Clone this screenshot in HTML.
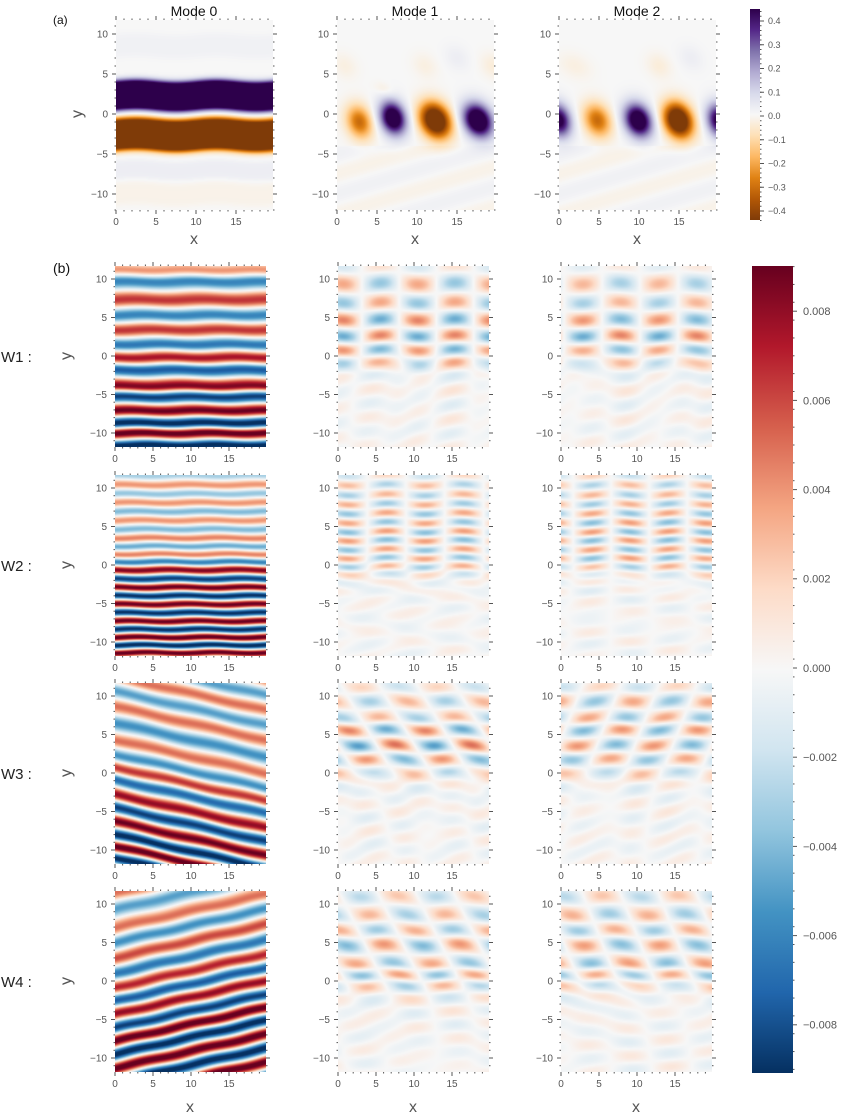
<!DOCTYPE html>
<html><head><meta charset="utf-8">
<style>
html,body{margin:0;padding:0;background:#fff;}
body{width:841px;height:1117px;position:relative;overflow:hidden;font-family:"Liberation Sans",sans-serif;}
canvas{position:absolute;}
.cb{position:absolute;}
svg{position:absolute;left:0;top:0;}
</style></head><body>
<div id="root"></div>
<div class="cb" style="left:750px;top:9px;width:10px;height:211px;background:linear-gradient(to bottom,#2d004b,#542788,#8073ac,#b2abd2,#d8daeb,#f7f7f7,#fee0b6,#fdb863,#e08214,#b35806,#7f3b08);"></div>
<div class="cb" style="left:752px;top:266px;width:41px;height:807px;background:linear-gradient(to bottom,#67001f,#b2182b,#d6604d,#f4a582,#fddbc7,#f7f7f7,#d1e5f0,#92c5de,#4393c3,#2166ac,#053061);"></div>
<svg id="ov" width="841" height="1117"></svg>
<script>
// ---------- data ----------
const puor = ["#7f3b08","#b35806","#e08214","#fdb863","#fee0b6","#f7f7f7","#d8daeb","#b2abd2","#8073ac","#542788","#2d004b"];
const rdbu = ["#053061","#2166ac","#4393c3","#92c5de","#d1e5f0","#f7f7f7","#fddbc7","#f4a582","#d6604d","#b2182b","#67001f"];
const mode0Bands = [[2.3,1.85,0.8],[-2.6,1.95,-0.8],[-7,1.2,0.03],[-10,1.5,-0.02],[8.5,1.5,0.02]];
const mode1Blobs = [[2.8,-1,1.6,2.0,-0.32],[7,-0.5,1.6,2.0,0.6],[12.3,-0.8,1.9,2.1,-0.65],[17.6,-0.8,1.8,2.0,0.65],[11,6,1.5,1.5,-0.03],[15,7,1.5,1.5,0.03],[19.5,6,1.5,1.5,-0.04],[6,3,1.2,0.8,-0.04],[1,6,1.5,1.5,-0.03]];
const mode2Blobs = [[0,-0.8,1.5,2,0.5],[4.8,-0.8,1.7,2.0,-0.32],[9.9,-0.8,1.7,2,0.6],[14.9,-0.8,1.8,2.1,-0.65],[20,-0.8,1.5,2,0.5],[12.5,6,1.5,1.5,-0.04],[16.5,7,1.5,1.5,0.03],[2,6,2,1.5,-0.03]];
const w1m0Y = [11.2,9.65,7.3,5.3,3.4,1.5,-0.2,-1.8,-3.9,-5.3,-7.1,-8.7,-10.0,-11.6];
const w1m0V = [0.004,-0.006,0.0065,-0.006,0.0065,-0.0065,0.0075,-0.0075,0.0085,-0.0085,0.009,-0.0095,0.0095,-0.0095];
const w2m0Y = [11.6,10.4,9.25,8.1,6.95,5.8,4.65,3.5,2.45,1.4,0.4,-0.65,-1.8,-2.9,-4.0,-5.1,-6.2,-7.3,-8.35,-9.4,-10.4,-11.4];
const w2m0V = [-0.003,0.004,-0.0035,0.004,-0.004,0.004,-0.004,0.0045,-0.0045,0.0045,-0.006,0.0085,-0.0085,0.009,-0.009,0.009,-0.009,0.009,-0.009,0.0095,-0.0095,0.0095];
const w3m0Y = [10.6,8.66,6.5,4.3,2.4,0.74,-0.87,-2.8,-4.5,-6.3,-8.0,-9.5,-11.0];
const w3m0V = [-0.005,0.005,-0.0055,0.005,-0.0055,0.0065,-0.007,0.008,-0.0085,0.009,-0.0095,0.0095,-0.0095];
const w4m0Y = [11.4,9.3,6.9,5.0,3.0,1.0,-0.87,-2.6,-4.3,-6.1,-7.8,-9.5,-11.3];
const w4m0V = [0.005,-0.005,0.005,-0.0055,0.006,-0.0065,0.007,-0.0075,0.008,-0.0085,0.0095,-0.0095,0.0095];
const w1cY = [11.6,9.4,6.9,4.7,2.6,0.8,-0.9,-2.6,-4.5,-6.5,-8.5,-10.5];
const w1m1V = [-0.0015,0.0035,-0.0035,0.0045,-0.0045,0.004,-0.003,0.0008,-0.0006,0.0005,-0.0005,0.0004];
const w1m2V = [-0.001,0.003,-0.003,0.004,-0.0045,0.0035,-0.0025,0.0008,-0.0006,0.0005,-0.0005,0.0004];
const w2cY = [11.6,10.4,9.1,7.9,6.7,5.5,4.3,3.2,2.0,0.9,-0.2,-1.2,-2.3,-3.4,-4.5,-5.6,-6.7];
const w2m1V = [0.002,-0.0028,0.003,-0.0032,0.0035,-0.0035,0.0038,-0.0038,0.0036,-0.0035,0.003,-0.002,0.001,-0.0005,0.0003,-0.0002,0.0002];
const w2m2V = [0.0022,-0.0028,0.003,-0.0032,0.0035,-0.0038,0.0038,-0.0038,0.0036,-0.0035,0.0028,-0.0018,0.0009,-0.0005,0.0003,-0.0002,0.0002];
const w3cY = [11.2,9.3,7.2,5.6,3.6,1.8,0,-1.8,-3.6,-5.4,-7.2,-9,-10.8];
const w3m1V = [-0.002,0.003,-0.003,0.0045,-0.005,0.004,-0.0025,0.001,-0.0006,0.0006,-0.0005,0.0005,-0.0004];
const w3m2V = [-0.002,0.0035,-0.0035,0.004,-0.004,0.0035,-0.0025,0.001,-0.0006,0.0006,-0.0005,0.0005,-0.0004];
const w4cY = [11,8.6,6.6,4.7,2.3,0.8,-0.6,-2.2,-4,-5.8,-7.6,-9.4,-11.2];
const w4m1V = [0.0025,-0.003,0.0032,-0.004,0.0035,-0.0035,0.0025,-0.0012,0.0006,-0.0005,0.0005,-0.0004,0.0004];
const w4m2V = [-0.0025,0.0032,-0.0032,0.0038,-0.0038,0.0035,-0.0025,0.0012,-0.0006,0.0005,-0.0005,0.0004,-0.0004];
const rowLabels = ["W1 :","W2 :","W3 :","W4 :"];
const modeTitles = ["Mode 0","Mode 1","Mode 2"];
const topTicks = ["0.4","0.3","0.2","0.1","0.0","\u22120.1","\u22120.2","\u22120.3","\u22120.4"];
const topTickVals = [0.4,0.3,0.2,0.1,0,-0.1,-0.2,-0.3,-0.4];
const botTicks = ["0.008","0.006","0.004","0.002","0.000","\u22120.002","\u22120.004","\u22120.006","\u22120.008"];
const botTickVals = [0.008,0.006,0.004,0.002,0,-0.002,-0.004,-0.006,-0.008];

function hex(c){return [parseInt(c.slice(1,3),16),parseInt(c.slice(3,5),16),parseInt(c.slice(5,7),16)];}
function cmapFn(list){const a=list.map(hex);return t=>{t=Math.max(0,Math.min(1,t))*(a.length-1);const i=Math.min(a.length-2,Math.floor(t)),f=t-i;return [0,1,2].map(k=>a[i][k]+(a[i+1][k]-a[i][k])*f);};}
function extremaVal(Y,V,yy){
  const n=Y.length;
  if(yy>=Y[0]){const d=Y[0]-Y[1];const f=(yy-Y[0])/d;const i=Math.floor(f);const fr=f-i;const a=Math.abs(V[0]);const s0=Math.sign(V[0])*((i%2)?-1:1);return s0*a*Math.cos(Math.PI*fr);}
  if(yy<=Y[n-1]){const d=Y[n-2]-Y[n-1];const f=(Y[n-1]-yy)/d;const i=Math.floor(f);const fr=f-i;const a=Math.abs(V[n-1]);const s0=Math.sign(V[n-1])*((i%2)?-1:1);return s0*a*Math.cos(Math.PI*fr);}
  let i=0;while(i<n-2&&yy<Y[i+1])i++;
  const f=(Y[i]-yy)/(Y[i]-Y[i+1]);const c=Math.cos(Math.PI*f);
  return V[i]*(1+c)/2+V[i+1]*(1-c)/2;
}
function stripeField(Y,V,tilt){return (x,y)=>{const yy=y-tilt*x+0.08*Math.sin(2*Math.PI*x/9+y*0.4);return extremaVal(Y,V,yy);};}
function checkerField(Y,V,P,x0,yref,shear,bgTilt){return (x,y)=>{
  const r=extremaVal(Y,V,y+0.12*Math.sin(x*0.7));
  const xc=x0+shear*(y-yref);
  let v=r*Math.cos(2*Math.PI*(x-xc)/P);
  const env=y<-1?1:Math.max(0,1-(y+1)/3);
  v+=env*0.0007*Math.cos(2*Math.PI*(y-bgTilt*x)/3.6)*Math.cos(2*Math.PI*x/11+1);
  return v;};}
function bandField(B){return (x,y)=>{let v=0;for(const b of B){const d=(y-b[0]-0.15*Math.sin(2*Math.PI*x/10))/b[1];v+=b[2]*Math.exp(-d*d*d*d);}return v;};}
function blobField(B){return (x,y)=>{let v=0;for(const b of B){const dx=(x-b[0])/b[2],dy=(y-b[1]+0.25*(x-b[0]))/b[3];v+=b[4]*Math.exp(-dx*dx-dy*dy);}v+=0.02*Math.cos(2*Math.PI*(y-0.3*x)/5)*(y<-4?1:0);return v;};}

const root=document.getElementById('root');
const ov=document.getElementById('ov');
const NS="http://www.w3.org/2000/svg";
function sv(tag,attrs,parent){const e=document.createElementNS(NS,tag);for(const k in attrs)e.setAttribute(k,attrs[k]);(parent||ov).appendChild(e);return e;}

function drawPanel(name,L,T,W,H,sx,sy,yZeroPx,field,vmax,cm){
  const c=document.createElement('canvas');c.width=W;c.height=H;c.style.left=L+'px';c.style.top=T+'px';
  
  
  root.appendChild(c);
  const ctx=c.getContext('2d');const img=ctx.createImageData(W,H);
  for(let py=0;py<H;py++){const y=(yZeroPx-(py+0.5))/sy;for(let px=0;px<W;px++){const x=(px+0.5)/sx;const v=field(x,y);const col=cm(0.5+0.5*v/vmax);const o=(py*W+px)*4;img.data[o]=col[0];img.data[o+1]=col[1];img.data[o+2]=col[2];img.data[o+3]=255;}}
  ctx.putImageData(img,0,0);
  const g=sv('g',{});
  
  
  const col="#555";
  for(let xv=0;xv*sx<=W+0.5;xv++){const X=L+xv*sx;const maj=xv%5===0;const len=maj?4:1.5;
    sv('line',{x1:X,x2:X,y1:T+H,y2:T+H+len,stroke:col,'stroke-width':1},g);
    sv('line',{x1:X,x2:X,y1:T,y2:T-len,stroke:col,'stroke-width':1},g);
    if(maj&&xv<20){const t=sv('text',{x:X,y:T+H+15,'font-size':10,fill:'#555','text-anchor':'middle'},g);t.textContent=String(xv);}}
  for(let yv=-12;yv<=12;yv++){const Y=T+yZeroPx-yv*sy;if(Y<T-0.5||Y>T+H+0.5)continue;const maj=yv%5===0;const len=maj?4:1.5;
    sv('line',{x1:L,x2:L-len,y1:Y,y2:Y,stroke:col,'stroke-width':1},g);
    sv('line',{x1:L+W,x2:L+W+len,y1:Y,y2:Y,stroke:col,'stroke-width':1},g);
    if(maj){const t=sv('text',{x:L-8,y:Y+3.5,'font-size':10,fill:'#555','text-anchor':'end'},g);t.textContent=(yv<0?'\u2212':'')+Math.abs(yv);}}
}
const cmP=cmapFn(puor),cmR=cmapFn(rdbu);
const topCols=[116,337,559];
const topFields=[bandField(mode0Bands),blobField(mode1Blobs),blobField(mode2Blobs)];
for(let i=0;i<3;i++){
  drawPanel('mode'+i+'-heatmap',topCols[i],20,157,190,8,8,94,topFields[i],0.45,cmP);
  const t=sv('text',{x:topCols[i]+78,y:16,'font-size':14,fill:'#111','text-anchor':'middle'});
  
  
  t.textContent=modeTitles[i];
  const xl=sv('text',{x:topCols[i]+78,y:244,'font-size':16,fill:'#555','text-anchor':'middle'});
  
  
  xl.textContent='x';
}
const botCols=[115,338,561];
const botRows=[266,475,683,891];
const botFields=[
 [stripeField(w1m0Y,w1m0V,0),checkerField(w1cY,w1m1V,9.8,0.7,9.4,0,0.3),checkerField(w1cY,w1m2V,10,2.9,9.4,0,0.3)],
 [stripeField(w2m0Y,w2m0V,0),checkerField(w2cY,w2m1V,10.2,6.4,11.6,0,0.1),checkerField(w2cY,w2m2V,10,4.1,11.6,0,0.1)],
 [stripeField(w3m0Y,w3m0V,-0.22),checkerField(w3cY,w3m1V,10,11.4,5.6,-0.6,0.3),checkerField(w3cY,w3m2V,10,9.5,9.3,0.4,0.3)],
 [stripeField(w4m0Y,w4m0V,0.22),checkerField(w4cY,w4m1V,10,1.1,4.7,-0.5,0.1),checkerField(w4cY,w4m2V,10,3,4.7,-0.4,0.1)]];
for(let r=0;r<4;r++){
  for(let c=0;c<3;c++){
    drawPanel('w'+(r+1)+'-mode'+c+'-heatmap',botCols[c],botRows[r],151,181,7.6,7.7,90,botFields[r][c],0.009,cmR);
  }
  const wl=sv('text',{x:1,y:botRows[r]+96,'font-size':15,fill:'#222'});
  
  
  wl.textContent=rowLabels[r];
  const yl=sv('text',{x:0,y:0,'font-size':16,fill:'#555','text-anchor':'middle',transform:'translate(71,'+(botRows[r]+90)+') rotate(-90)'});
  
  
  yl.textContent='y';
}
const ylt=sv('text',{x:0,y:0,'font-size':16,fill:'#555','text-anchor':'middle',transform:'translate(82,114) rotate(-90)'});


ylt.textContent='y';
for(let c=0;c<3;c++){const xl=sv('text',{x:botCols[c]+75,y:1112,'font-size':16,fill:'#555','text-anchor':'middle'});
  
  
  xl.textContent='x';}
const pa=sv('text',{x:53,y:24,'font-size':12,fill:'#111'});


pa.textContent='(a)';
const pb=sv('text',{x:53,y:273,'font-size':14,fill:'#111'});


pb.textContent='(b)';
function cbTicks(x,zeroY,pxPerUnit,vals,labels,minorStep,fs,lx,span){
  for(let i=0;i<vals.length;i++){const Y=zeroY-vals[i]*pxPerUnit;
    sv('line',{x1:x,x2:x+4,y1:Y,y2:Y,stroke:'#555'});
    const t=sv('text',{x:lx,y:Y+fs*0.35,'font-size':fs,fill:'#555'});
    
    
    t.textContent=labels[i];}
  for(let v=-span;v<=span+1e-9;v+=minorStep){const Y=zeroY-v*pxPerUnit;sv('line',{x1:x,x2:x+1.5,y1:Y,y2:Y,stroke:'#555'});}
}
cbTicks(760,116,237.5,topTickVals,topTicks,0.02,9,768,0.44);
cbTicks(793,668,44600,botTickVals,botTicks,0.0004,11,803,0.009);
</script>
</body></html>
